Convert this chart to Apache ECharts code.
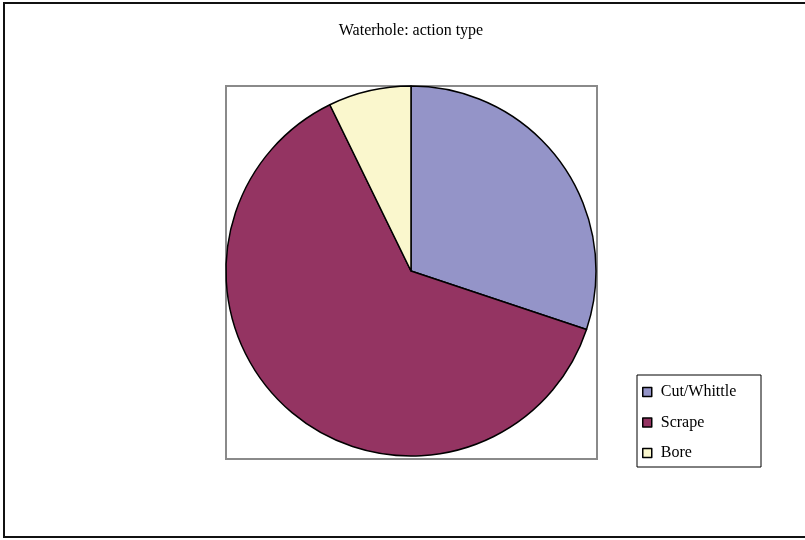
<!DOCTYPE html>
<html>
<head>
<meta charset="utf-8">
<style>
  html, body { margin: 0; padding: 0; background: #ffffff; }
  #chart { width: 805px; height: 540px; }
</style>
<script src="https://cdn.jsdelivr.net/npm/echarts@6/dist/echarts.min.js"></script>
</head>
<body>
<div id="chart"></div>
<script>
// Tool actions recorded at the waterhole
const categories = ['Cut/Whittle', 'Scrape', 'Bore'];
const counts = [25, 52, 6];
const sliceColors = ['#9494C8', '#943462', '#FAF7CD'];

const chart = echarts.init(document.getElementById('chart'), null, { renderer: 'canvas' });

const serif = '"Liberation Serif", "DejaVu Serif", serif';

chart.setOption({
  animation: false,
  backgroundColor: '#ffffff',
  graphic: [
    { // outer chart frame
      type: 'rect', z: 0,
      shape: { x: 4, y: 3, width: 820, height: 534 },
      style: { fill: null, stroke: '#111111', lineWidth: 2 }
    },
    { // plot area frame
      type: 'rect', z: 0,
      shape: { x: 226, y: 86, width: 371, height: 373 },
      style: { fill: null, stroke: '#8a8a8a', lineWidth: 2 }
    },
    { // legend frame
      type: 'rect', z: 0,
      shape: { x: 637, y: 375, width: 124, height: 92 },
      style: { fill: '#ffffff', stroke: '#000000', lineWidth: 1 }
    },
    {
      type: 'text', z: 5,
      x: 411, y: 31,
      style: {
        text: 'Waterhole: action type',
        font: '16px ' + serif,
        fill: '#000000',
        align: 'center',
        verticalAlign: 'middle'
      }
    }
  ],
  legend: {
    orient: 'vertical',
    left: 637,
    top: 375,
    padding: [9, 8, 9, 5],
    itemGap: 14.5,
    itemWidth: 9,
    itemHeight: 9,
    icon: 'rect',
    borderWidth: 0,
    itemStyle: { borderColor: '#000000', borderWidth: 1.5 },
    textStyle: {
      fontFamily: serif,
      fontSize: 16,
      color: '#000000',
      padding: [0, 0, 0, 4]
    },
    data: categories
  },
  series: [{
    type: 'pie',
    center: [411, 271],
    radius: [0, 185],
    startAngle: 90,
    clockwise: true,
    label: { show: false },
    labelLine: { show: false },
    emphasis: { disabled: true },
    itemStyle: { borderColor: '#000000', borderWidth: 1.5 },
    data: categories.map((name, i) => ({
      name: name,
      value: counts[i],
      itemStyle: { color: sliceColors[i] }
    }))
  }]
});
</script>
</body>
</html>
